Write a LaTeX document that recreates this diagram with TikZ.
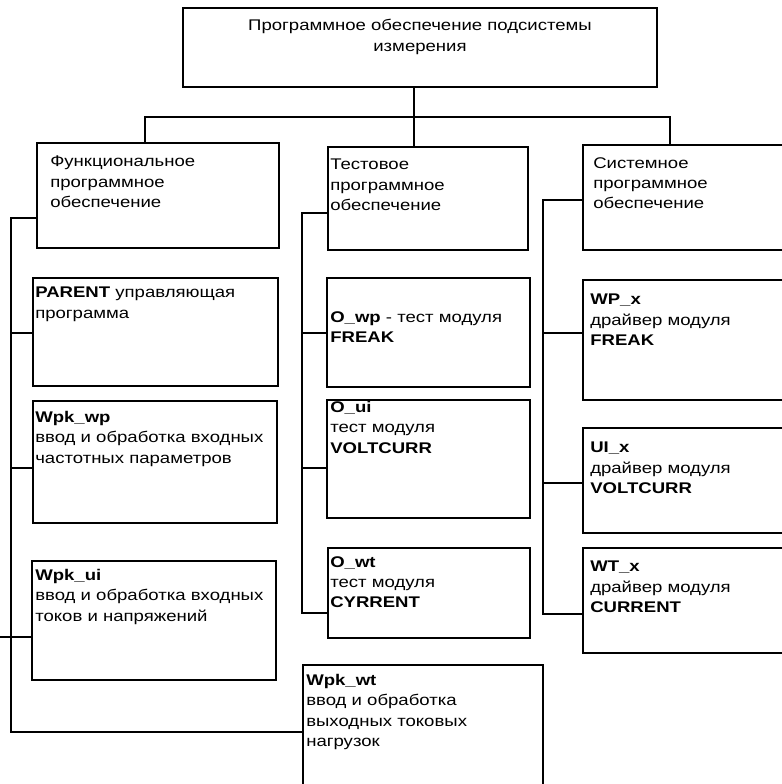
\documentclass[tikz,border=0pt]{standalone}
\usepackage{fontspec}
\setmainfont{Liberation Sans}[FakeStretch=1.2]
\usetikzlibrary{fit}
\begin{document}
\begin{tikzpicture}[x=0.25mm, y=-0.25mm,
    box/.style={draw, line width=1.2pt, inner sep=0pt},
    txt/.style={anchor=north west, inner sep=0pt, align=left,
        font=\fontsize{11pt}{14.5pt}\selectfont},
    link/.style={line width=0.8pt}]
    \useasboundingbox (0,0) rectangle (782,784);
    \clip (0,0) rectangle (782,784);
    % boxes
    \node[box, fit={(183,8) (657,87)}] (root) {};
    \node[box, fit={(37,143) (279,248)}] (func) {};
    \node[box, fit={(328,147) (528,250)}] (test) {};
    \node[box, fit={(583,145) (800,250)}] (sys) {};
    \node[box, fit={(33,278) (278,386)}] (parent) {};
    \node[box, fit={(33,401) (277,523)}] (wpkwp) {};
    \node[box, fit={(32,561) (276,680)}] (wpkui) {};
    \node[box, fit={(303,665) (543,800)}] (wpkwt) {};
    \node[box, fit={(327,278) (530,387)}] (owp) {};
    \node[box, fit={(327,400) (530,518)}] (oui) {};
    \node[box, fit={(328,548) (530,638)}] (owt) {};
    \node[box, fit={(583,280) (800,400)}] (wpx) {};
    \node[box, fit={(583,428) (800,533)}] (uix) {};
    \node[box, fit={(583,548) (800,653)}] (wtx) {};
    % texts
    \node[txt, anchor=north, align=center] (root-t) at (420,19)
        {Программное обеспечение подсистемы\\измерения};
    \node[txt] (func-t) at (50,156) {Функциональное\\программное\\обеспечение};
    \node[txt] (test-t) at (330,159) {Тестовое\\программное\\обеспечение};
    \node[txt] (sys-t) at (593,157) {Системное\\программное\\обеспечение};
    \node[txt] (parent-t) at (35,287) {\textbf{PARENT} управляющая\\программа};
    \node[txt] (wpkwp-t) at (35,411) {\textbf{Wpk\_wp}\\ввод и обработка входных\\частотных параметров};
    \node[txt] (wpkui-t) at (35,569) {\textbf{Wpk\_ui}\\ввод и обработка входных\\токов и напряжений};
    \node[txt] (wpkwt-t) at (306,674) {\textbf{Wpk\_wt}\\ввод и обработка\\выходных токовых\\нагрузок};
    \node[txt] (owp-t) at (330,311) {\textbf{O\_wp} - тест модуля\\\textbf{FREAK}};
    \node[txt] (oui-t) at (330,401) {\textbf{O\_ui}\\тест модуля\\\textbf{VOLTCURR}};
    \node[txt] (owt-t) at (330,556) {\textbf{O\_wt}\\тест модуля\\\textbf{CYRRENT}};
    \node[txt] (wpx-t) at (590,294) {\textbf{WP\_x}\\драйвер модуля\\\textbf{FREAK}};
    \node[txt] (uix-t) at (590,442) {\textbf{UI\_x}\\драйвер модуля\\\textbf{VOLTCURR}};
    \node[txt] (wtx-t) at (590,561) {\textbf{WT\_x}\\драйвер модуля\\\textbf{CURRENT}};
    % top level connectors
    \coordinate (jA) at (414,117);
    \coordinate (jL) at (145,117);
    \coordinate (jR) at (670,117);
    \draw[link] (jA |- root.south) -- (jA |- test.north);
    \draw[link] (jL |- func.north) -- (jL) -- (jR) -- (jR |- sys.north);
    % left bus
    \coordinate (lb) at (11,218);
    \coordinate (lbe) at (11,732);
    \coordinate (uiend) at (0,637);
    \draw[link] (func.west |- lb) -- (lb) -- (lbe) -- (wpkwt.west |- lbe);
    \foreach \n/\y in {parent/333, wpkwp/468}
        \draw[link] (11,\y) -- (\n.west |- 0,\y);
    \draw[link] (uiend) -- (wpkui.west |- uiend);
    % middle bus
    \coordinate (mb) at (302,213);
    \coordinate (mbe) at (302,613);
    \draw[link] (test.west |- mb) -- (mb) -- (mbe) -- (owt.west |- mbe);
    \foreach \n/\y in {owp/333, oui/468}
        \draw[link] (302,\y) -- (\n.west |- 0,\y);
    % right bus
    \coordinate (rb) at (543,200);
    \coordinate (rbe) at (543,614);
    \draw[link] (sys.west |- rb) -- (rb) -- (rbe) -- (wtx.west |- rbe);
    \foreach \n/\y in {wpx/333, uix/483}
        \draw[link] (543,\y) -- (\n.west |- 0,\y);
\end{tikzpicture}
\end{document}
